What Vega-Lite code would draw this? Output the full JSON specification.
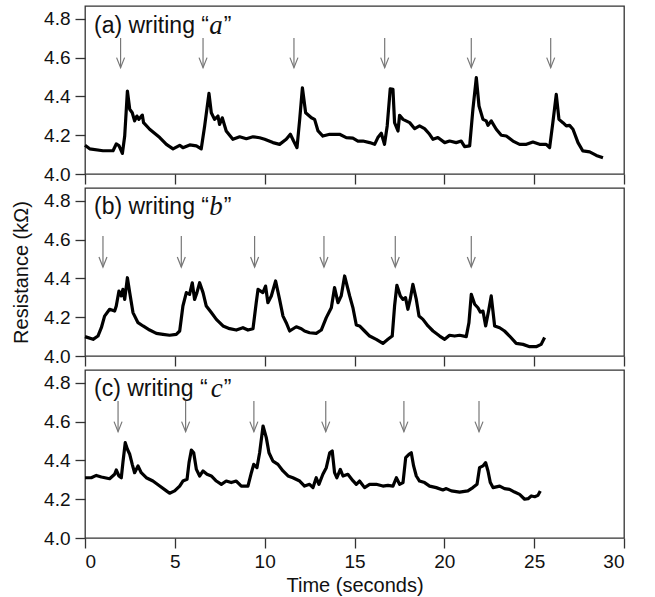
{
  "$schema": "https://vega.github.io/schema/vega-lite/v6.json",
  "padding": {"left": 10, "top": 5, "right": 5, "bottom": 5},
  "background": "white",
  "bounds": "flush",
  "spacing": 14,
  "config": {
    "font": "Liberation Sans",
    "view": {"stroke": "#333", "strokeWidth": 1.3},
    "axis": {
      "domain": false, "grid": false, "tickSize": 10, "tickColor": "#333", "tickWidth": 1.3,
      "labelFontSize": 19, "labelColor": "#111", "labelFont": "Liberation Sans",
      "titleFontSize": 20, "titleColor": "#111", "titleFontWeight": "normal", "titleFont": "Liberation Sans"
    },
    "axisY": {"labelPadding": 5, "titlePadding": 12},
    "axisX": {"labelPadding": 4, "titlePadding": 4}
  },
  "datasets": {
    "trace": [
      {"p":"a","t":0,"r":4.148},{"p":"a","t":0.26,"r":4.13},{"p":"a","t":1.0,"r":4.12},{"p":"a","t":1.56,"r":4.12},{"p":"a","t":1.74,"r":4.155},{"p":"a","t":1.89,"r":4.147},{"p":"a","t":2.08,"r":4.106},{"p":"a","t":2.21,"r":4.196},{"p":"a","t":2.36,"r":4.428},{"p":"a","t":2.49,"r":4.334},{"p":"a","t":2.63,"r":4.316},{"p":"a","t":2.76,"r":4.274},{"p":"a","t":2.89,"r":4.299},{"p":"a","t":3.0,"r":4.282},{"p":"a","t":3.19,"r":4.304},{"p":"a","t":3.26,"r":4.265},{"p":"a","t":3.6,"r":4.231},{"p":"a","t":4.16,"r":4.188},{"p":"a","t":4.53,"r":4.153},{"p":"a","t":4.9,"r":4.13},{"p":"a","t":5.27,"r":4.148},{"p":"a","t":5.45,"r":4.136},{"p":"a","t":5.83,"r":4.15},{"p":"a","t":6.2,"r":4.145},{"p":"a","t":6.47,"r":4.13},{"p":"a","t":6.66,"r":4.248},{"p":"a","t":6.9,"r":4.416},{"p":"a","t":7.03,"r":4.316},{"p":"a","t":7.21,"r":4.282},{"p":"a","t":7.4,"r":4.299},{"p":"a","t":7.49,"r":4.256},{"p":"a","t":7.64,"r":4.29},{"p":"a","t":7.86,"r":4.222},{"p":"a","t":8.23,"r":4.179},{"p":"a","t":8.61,"r":4.192},{"p":"a","t":8.98,"r":4.182},{"p":"a","t":9.35,"r":4.192},{"p":"a","t":9.72,"r":4.187},{"p":"a","t":10.0,"r":4.179},{"p":"a","t":10.46,"r":4.162},{"p":"a","t":10.83,"r":4.153},{"p":"a","t":11.2,"r":4.179},{"p":"a","t":11.43,"r":4.205},{"p":"a","t":11.61,"r":4.17},{"p":"a","t":11.8,"r":4.136},{"p":"a","t":11.95,"r":4.282},{"p":"a","t":12.1,"r":4.445},{"p":"a","t":12.28,"r":4.316},{"p":"a","t":12.6,"r":4.29},{"p":"a","t":12.78,"r":4.282},{"p":"a","t":12.97,"r":4.222},{"p":"a","t":13.24,"r":4.196},{"p":"a","t":13.62,"r":4.205},{"p":"a","t":14.17,"r":4.205},{"p":"a","t":14.54,"r":4.188},{"p":"a","t":14.91,"r":4.185},{"p":"a","t":15.19,"r":4.17},{"p":"a","t":15.47,"r":4.17},{"p":"a","t":15.84,"r":4.162},{"p":"a","t":16.12,"r":4.153},{"p":"a","t":16.3,"r":4.188},{"p":"a","t":16.49,"r":4.21},{"p":"a","t":16.67,"r":4.153},{"p":"a","t":16.82,"r":4.248},{"p":"a","t":16.99,"r":4.44},{"p":"a","t":17.14,"r":4.437},{"p":"a","t":17.23,"r":4.265},{"p":"a","t":17.42,"r":4.222},{"p":"a","t":17.51,"r":4.303},{"p":"a","t":17.7,"r":4.282},{"p":"a","t":18.07,"r":4.265},{"p":"a","t":18.35,"r":4.234},{"p":"a","t":18.62,"r":4.248},{"p":"a","t":18.9,"r":4.234},{"p":"a","t":19.18,"r":4.205},{"p":"a","t":19.37,"r":4.179},{"p":"a","t":19.64,"r":4.188},{"p":"a","t":20.02,"r":4.162},{"p":"a","t":20.29,"r":4.17},{"p":"a","t":20.66,"r":4.162},{"p":"a","t":20.94,"r":4.17},{"p":"a","t":21.13,"r":4.141},{"p":"a","t":21.41,"r":4.145},{"p":"a","t":21.59,"r":4.334},{"p":"a","t":21.78,"r":4.497},{"p":"a","t":21.93,"r":4.351},{"p":"a","t":22.15,"r":4.282},{"p":"a","t":22.33,"r":4.274},{"p":"a","t":22.43,"r":4.251},{"p":"a","t":22.61,"r":4.274},{"p":"a","t":22.89,"r":4.231},{"p":"a","t":23.17,"r":4.2},{"p":"a","t":23.45,"r":4.196},{"p":"a","t":23.82,"r":4.17},{"p":"a","t":24.19,"r":4.153},{"p":"a","t":24.57,"r":4.153},{"p":"a","t":24.93,"r":4.165},{"p":"a","t":25.3,"r":4.153},{"p":"a","t":25.67,"r":4.153},{"p":"a","t":25.86,"r":4.136},{"p":"a","t":26.04,"r":4.265},{"p":"a","t":26.23,"r":4.411},{"p":"a","t":26.38,"r":4.282},{"p":"a","t":26.6,"r":4.265},{"p":"a","t":26.79,"r":4.248},{"p":"a","t":26.97,"r":4.251},{"p":"a","t":27.16,"r":4.231},{"p":"a","t":27.44,"r":4.162},{"p":"a","t":27.71,"r":4.119},{"p":"a","t":28.09,"r":4.114},{"p":"a","t":28.46,"r":4.096},{"p":"a","t":28.83,"r":4.084},
      {"p":"b","t":0,"r":4.1},{"p":"b","t":0.45,"r":4.086},{"p":"b","t":0.72,"r":4.103},{"p":"b","t":0.91,"r":4.146},{"p":"b","t":1.09,"r":4.206},{"p":"b","t":1.37,"r":4.241},{"p":"b","t":1.65,"r":4.232},{"p":"b","t":1.74,"r":4.258},{"p":"b","t":1.89,"r":4.335},{"p":"b","t":2.02,"r":4.31},{"p":"b","t":2.11,"r":4.344},{"p":"b","t":2.21,"r":4.292},{"p":"b","t":2.36,"r":4.404},{"p":"b","t":2.49,"r":4.327},{"p":"b","t":2.67,"r":4.224},{"p":"b","t":2.95,"r":4.172},{"p":"b","t":3.23,"r":4.155},{"p":"b","t":3.6,"r":4.134},{"p":"b","t":3.97,"r":4.117},{"p":"b","t":4.34,"r":4.112},{"p":"b","t":4.71,"r":4.107},{"p":"b","t":5.08,"r":4.112},{"p":"b","t":5.27,"r":4.129},{"p":"b","t":5.45,"r":4.258},{"p":"b","t":5.64,"r":4.327},{"p":"b","t":5.82,"r":4.318},{"p":"b","t":5.97,"r":4.378},{"p":"b","t":6.1,"r":4.292},{"p":"b","t":6.23,"r":4.327},{"p":"b","t":6.38,"r":4.378},{"p":"b","t":6.57,"r":4.327},{"p":"b","t":6.75,"r":4.258},{"p":"b","t":7.03,"r":4.224},{"p":"b","t":7.31,"r":4.189},{"p":"b","t":7.68,"r":4.155},{"p":"b","t":8.05,"r":4.141},{"p":"b","t":8.42,"r":4.134},{"p":"b","t":8.79,"r":4.146},{"p":"b","t":9.07,"r":4.134},{"p":"b","t":9.35,"r":4.141},{"p":"b","t":9.53,"r":4.275},{"p":"b","t":9.63,"r":4.344},{"p":"b","t":9.9,"r":4.327},{"p":"b","t":10.05,"r":4.361},{"p":"b","t":10.18,"r":4.275},{"p":"b","t":10.37,"r":4.31},{"p":"b","t":10.61,"r":4.387},{"p":"b","t":10.83,"r":4.292},{"p":"b","t":11.02,"r":4.206},{"p":"b","t":11.2,"r":4.172},{"p":"b","t":11.39,"r":4.129},{"p":"b","t":11.76,"r":4.151},{"p":"b","t":12.04,"r":4.141},{"p":"b","t":12.22,"r":4.129},{"p":"b","t":12.5,"r":4.12},{"p":"b","t":12.87,"r":4.117},{"p":"b","t":13.15,"r":4.134},{"p":"b","t":13.43,"r":4.198},{"p":"b","t":13.71,"r":4.249},{"p":"b","t":13.89,"r":4.353},{"p":"b","t":14.08,"r":4.275},{"p":"b","t":14.26,"r":4.31},{"p":"b","t":14.45,"r":4.413},{"p":"b","t":14.73,"r":4.31},{"p":"b","t":14.91,"r":4.25},{"p":"b","t":15.1,"r":4.16},{"p":"b","t":15.28,"r":4.155},{"p":"b","t":15.56,"r":4.129},{"p":"b","t":15.84,"r":4.103},{"p":"b","t":16.21,"r":4.086},{"p":"b","t":16.58,"r":4.065},{"p":"b","t":16.86,"r":4.086},{"p":"b","t":17.1,"r":4.103},{"p":"b","t":17.23,"r":4.258},{"p":"b","t":17.36,"r":4.365},{"p":"b","t":17.55,"r":4.31},{"p":"b","t":17.7,"r":4.292},{"p":"b","t":17.84,"r":4.301},{"p":"b","t":17.97,"r":4.241},{"p":"b","t":18.1,"r":4.292},{"p":"b","t":18.25,"r":4.37},{"p":"b","t":18.44,"r":4.292},{"p":"b","t":18.59,"r":4.206},{"p":"b","t":18.81,"r":4.189},{"p":"b","t":19.09,"r":4.155},{"p":"b","t":19.37,"r":4.129},{"p":"b","t":19.74,"r":4.103},{"p":"b","t":20.02,"r":4.086},{"p":"b","t":20.29,"r":4.107},{"p":"b","t":20.57,"r":4.103},{"p":"b","t":20.85,"r":4.107},{"p":"b","t":21.22,"r":4.1},{"p":"b","t":21.37,"r":4.172},{"p":"b","t":21.5,"r":4.318},{"p":"b","t":21.69,"r":4.267},{"p":"b","t":21.87,"r":4.249},{"p":"b","t":22.0,"r":4.227},{"p":"b","t":22.15,"r":4.232},{"p":"b","t":22.3,"r":4.155},{"p":"b","t":22.48,"r":4.241},{"p":"b","t":22.61,"r":4.31},{"p":"b","t":22.8,"r":4.155},{"p":"b","t":23.08,"r":4.146},{"p":"b","t":23.35,"r":4.129},{"p":"b","t":23.63,"r":4.103},{"p":"b","t":24.0,"r":4.065},{"p":"b","t":24.38,"r":4.06},{"p":"b","t":24.75,"r":4.048},{"p":"b","t":25.11,"r":4.048},{"p":"b","t":25.39,"r":4.06},{"p":"b","t":25.58,"r":4.095},
      {"p":"c","t":0,"r":4.311},{"p":"c","t":0.35,"r":4.311},{"p":"c","t":0.63,"r":4.323},{"p":"c","t":0.91,"r":4.315},{"p":"c","t":1.37,"r":4.306},{"p":"c","t":1.65,"r":4.329},{"p":"c","t":1.74,"r":4.351},{"p":"c","t":1.89,"r":4.32},{"p":"c","t":2.02,"r":4.311},{"p":"c","t":2.11,"r":4.389},{"p":"c","t":2.24,"r":4.492},{"p":"c","t":2.36,"r":4.458},{"p":"c","t":2.49,"r":4.432},{"p":"c","t":2.63,"r":4.38},{"p":"c","t":2.76,"r":4.337},{"p":"c","t":2.95,"r":4.372},{"p":"c","t":3.13,"r":4.337},{"p":"c","t":3.41,"r":4.311},{"p":"c","t":3.78,"r":4.294},{"p":"c","t":4.16,"r":4.268},{"p":"c","t":4.53,"r":4.243},{"p":"c","t":4.71,"r":4.231},{"p":"c","t":4.99,"r":4.243},{"p":"c","t":5.27,"r":4.268},{"p":"c","t":5.45,"r":4.294},{"p":"c","t":5.68,"r":4.303},{"p":"c","t":5.79,"r":4.389},{"p":"c","t":5.92,"r":4.454},{"p":"c","t":6.05,"r":4.44},{"p":"c","t":6.2,"r":4.354},{"p":"c","t":6.38,"r":4.32},{"p":"c","t":6.57,"r":4.346},{"p":"c","t":6.79,"r":4.329},{"p":"c","t":7.03,"r":4.32},{"p":"c","t":7.31,"r":4.294},{"p":"c","t":7.59,"r":4.277},{"p":"c","t":7.86,"r":4.294},{"p":"c","t":8.14,"r":4.286},{"p":"c","t":8.42,"r":4.294},{"p":"c","t":8.7,"r":4.268},{"p":"c","t":9.07,"r":4.268},{"p":"c","t":9.26,"r":4.337},{"p":"c","t":9.39,"r":4.38},{"p":"c","t":9.57,"r":4.363},{"p":"c","t":9.72,"r":4.44},{"p":"c","t":9.91,"r":4.578},{"p":"c","t":10.09,"r":4.518},{"p":"c","t":10.24,"r":4.44},{"p":"c","t":10.46,"r":4.397},{"p":"c","t":10.74,"r":4.38},{"p":"c","t":11.02,"r":4.346},{"p":"c","t":11.3,"r":4.32},{"p":"c","t":11.57,"r":4.311},{"p":"c","t":11.95,"r":4.294},{"p":"c","t":12.22,"r":4.268},{"p":"c","t":12.5,"r":4.277},{"p":"c","t":12.69,"r":4.26},{"p":"c","t":12.87,"r":4.311},{"p":"c","t":13.02,"r":4.277},{"p":"c","t":13.24,"r":4.329},{"p":"c","t":13.43,"r":4.363},{"p":"c","t":13.62,"r":4.44},{"p":"c","t":13.76,"r":4.449},{"p":"c","t":13.89,"r":4.337},{"p":"c","t":14.02,"r":4.311},{"p":"c","t":14.21,"r":4.354},{"p":"c","t":14.36,"r":4.32},{"p":"c","t":14.63,"r":4.329},{"p":"c","t":14.91,"r":4.296},{"p":"c","t":15.1,"r":4.277},{"p":"c","t":15.28,"r":4.294},{"p":"c","t":15.56,"r":4.26},{"p":"c","t":15.84,"r":4.277},{"p":"c","t":16.21,"r":4.277},{"p":"c","t":16.58,"r":4.268},{"p":"c","t":16.86,"r":4.272},{"p":"c","t":17.14,"r":4.268},{"p":"c","t":17.33,"r":4.311},{"p":"c","t":17.51,"r":4.277},{"p":"c","t":17.7,"r":4.286},{"p":"c","t":17.85,"r":4.415},{"p":"c","t":18.03,"r":4.432},{"p":"c","t":18.16,"r":4.44},{"p":"c","t":18.29,"r":4.372},{"p":"c","t":18.44,"r":4.32},{"p":"c","t":18.62,"r":4.294},{"p":"c","t":18.9,"r":4.286},{"p":"c","t":19.18,"r":4.268},{"p":"c","t":19.55,"r":4.26},{"p":"c","t":19.92,"r":4.248},{"p":"c","t":20.11,"r":4.255},{"p":"c","t":20.39,"r":4.243},{"p":"c","t":20.85,"r":4.237},{"p":"c","t":21.31,"r":4.243},{"p":"c","t":21.59,"r":4.26},{"p":"c","t":21.82,"r":4.277},{"p":"c","t":21.96,"r":4.363},{"p":"c","t":22.15,"r":4.372},{"p":"c","t":22.3,"r":4.389},{"p":"c","t":22.43,"r":4.346},{"p":"c","t":22.56,"r":4.286},{"p":"c","t":22.71,"r":4.26},{"p":"c","t":23.08,"r":4.268},{"p":"c","t":23.35,"r":4.255},{"p":"c","t":23.63,"r":4.251},{"p":"c","t":23.91,"r":4.237},{"p":"c","t":24.19,"r":4.225},{"p":"c","t":24.47,"r":4.2},{"p":"c","t":24.66,"r":4.203},{"p":"c","t":24.84,"r":4.217},{"p":"c","t":25.03,"r":4.213},{"p":"c","t":25.21,"r":4.22},{"p":"c","t":25.34,"r":4.243}
    ],
    "arrows": [
      {"p":"a","t":1.98,"r2":4.702,"r":4.549},{"p":"a","t":6.57,"r2":4.702,"r":4.549},{"p":"a","t":11.63,"r2":4.702,"r":4.549},{"p":"a","t":16.68,"r2":4.702,"r":4.549},{"p":"a","t":21.5,"r2":4.702,"r":4.549},{"p":"a","t":25.92,"r2":4.702,"r":4.549},
      {"p":"b","t":1.0,"r2":4.619,"r":4.459},{"p":"b","t":5.36,"r2":4.619,"r":4.459},{"p":"b","t":9.44,"r2":4.619,"r":4.459},{"p":"b","t":13.3,"r2":4.619,"r":4.459},{"p":"b","t":17.27,"r2":4.619,"r":4.459},{"p":"b","t":21.5,"r2":4.619,"r":4.459},
      {"p":"c","t":1.84,"r2":4.707,"r":4.549},{"p":"c","t":5.6,"r2":4.707,"r":4.549},{"p":"c","t":9.4,"r2":4.707,"r":4.549},{"p":"c","t":13.4,"r2":4.707,"r":4.549},{"p":"c","t":17.75,"r2":4.707,"r":4.549},{"p":"c","t":21.93,"r2":4.707,"r":4.549}
    ],
    "labels": [
      {"p":"a","t":0.5,"r":4.765,"s":"(a) writing “","k":"sans"},{"p":"a","t":6.92,"r":4.765,"s":"a","k":"serif"},{"p":"a","t":7.72,"r":4.765,"s":"”","k":"sans"},
      {"p":"b","t":0.5,"r":4.77,"s":"(b) writing “","k":"sans"},{"p":"b","t":6.92,"r":4.77,"s":"b","k":"serif"},{"p":"b","t":7.72,"r":4.77,"s":"”","k":"sans"},
      {"p":"c","t":0.5,"r":4.77,"s":"(c) writing “","k":"sans"},{"p":"c","t":7.0,"r":4.77,"s":"c","k":"serif"},{"p":"c","t":7.72,"r":4.77,"s":"”","k":"sans"}
    ]
  },
  "vconcat": [
    {
      "width": 539, "height": 168,
      "encoding": {
        "x": {"field": "t", "type": "quantitative", "scale": {"domain": [0, 30], "nice": false}, "axis": {"values": [0,5,10,15,20,25,30], "labels": false, "title": null}},
        "y": {"field": "r", "type": "quantitative", "scale": {"domain": [4, 4.867], "nice": false, "zero": false}, "axis": {"values": [4,4.2,4.4,4.6,4.8], "format": ".1f", "title": null}}
      },
      "layer": [
        {"data": {"name": "trace"}, "transform": [{"filter": "datum.p === 'a'"}],
         "mark": {"type": "line", "color": "black", "strokeWidth": 3.2, "strokeJoin": "round"}},
        {"data": {"name": "arrows"}, "transform": [{"filter": "datum.p === 'a'"}],
         "mark": {"type": "rule", "color": "#777", "strokeWidth": 1.2},
         "encoding": {"y2": {"field": "r2"}}},
        {"data": {"name": "arrows"}, "transform": [{"filter": "datum.p === 'a'"}],
         "mark": {"type": "point", "shape": "M-0.8,-2L0,0L0.8,-2", "filled": false, "color": "#777", "strokeWidth": 1.2, "size": 100, "opacity": 1}},
        {"data": {"name": "labels"}, "transform": [{"filter": "datum.p === 'a' && datum.k === 'sans'"}],
         "mark": {"type": "text", "align": "left", "baseline": "middle", "fontSize": 23, "font": "Liberation Sans", "color": "#111"},
         "encoding": {"text": {"field": "s"}}},
        {"data": {"name": "labels"}, "transform": [{"filter": "datum.p === 'a' && datum.k === 'serif'"}],
         "mark": {"type": "text", "align": "left", "baseline": "middle", "fontSize": 27, "font": "Liberation Serif", "fontStyle": "italic", "color": "#111"},
         "encoding": {"text": {"field": "s"}}}
      ]
    },
    {
      "width": 539, "height": 168,
      "encoding": {
        "x": {"field": "t", "type": "quantitative", "scale": {"domain": [0, 30], "nice": false}, "axis": {"values": [0,5,10,15,20,25,30], "labels": false, "title": null}},
        "y": {"field": "r", "type": "quantitative", "scale": {"domain": [4, 4.867], "nice": false, "zero": false}, "axis": {"values": [4,4.2,4.4,4.6,4.8], "format": ".1f", "title": "Resistance (kΩ)"}}
      },
      "layer": [
        {"data": {"name": "trace"}, "transform": [{"filter": "datum.p === 'b'"}],
         "mark": {"type": "line", "color": "black", "strokeWidth": 3.2, "strokeJoin": "round"}},
        {"data": {"name": "arrows"}, "transform": [{"filter": "datum.p === 'b'"}],
         "mark": {"type": "rule", "color": "#777", "strokeWidth": 1.2},
         "encoding": {"y2": {"field": "r2"}}},
        {"data": {"name": "arrows"}, "transform": [{"filter": "datum.p === 'b'"}],
         "mark": {"type": "point", "shape": "M-0.8,-2L0,0L0.8,-2", "filled": false, "color": "#777", "strokeWidth": 1.2, "size": 100, "opacity": 1}},
        {"data": {"name": "labels"}, "transform": [{"filter": "datum.p === 'b' && datum.k === 'sans'"}],
         "mark": {"type": "text", "align": "left", "baseline": "middle", "fontSize": 23, "font": "Liberation Sans", "color": "#111"},
         "encoding": {"text": {"field": "s"}}},
        {"data": {"name": "labels"}, "transform": [{"filter": "datum.p === 'b' && datum.k === 'serif'"}],
         "mark": {"type": "text", "align": "left", "baseline": "middle", "fontSize": 27, "font": "Liberation Serif", "fontStyle": "italic", "color": "#111"},
         "encoding": {"text": {"field": "s"}}}
      ]
    },
    {
      "width": 539, "height": 168,
      "encoding": {
        "x": {"field": "t", "type": "quantitative", "scale": {"domain": [0, 30], "nice": false}, "axis": {"values": [0,5,10,15,20,25,30], "title": "Time (seconds)"}},
        "y": {"field": "r", "type": "quantitative", "scale": {"domain": [4, 4.867], "nice": false, "zero": false}, "axis": {"values": [4,4.2,4.4,4.6,4.8], "format": ".1f", "title": null}}
      },
      "layer": [
        {"data": {"name": "trace"}, "transform": [{"filter": "datum.p === 'c'"}],
         "mark": {"type": "line", "color": "black", "strokeWidth": 3.2, "strokeJoin": "round"}},
        {"data": {"name": "arrows"}, "transform": [{"filter": "datum.p === 'c'"}],
         "mark": {"type": "rule", "color": "#777", "strokeWidth": 1.2},
         "encoding": {"y2": {"field": "r2"}}},
        {"data": {"name": "arrows"}, "transform": [{"filter": "datum.p === 'c'"}],
         "mark": {"type": "point", "shape": "M-0.8,-2L0,0L0.8,-2", "filled": false, "color": "#777", "strokeWidth": 1.2, "size": 100, "opacity": 1}},
        {"data": {"name": "labels"}, "transform": [{"filter": "datum.p === 'c' && datum.k === 'sans'"}],
         "mark": {"type": "text", "align": "left", "baseline": "middle", "fontSize": 23, "font": "Liberation Sans", "color": "#111"},
         "encoding": {"text": {"field": "s"}}},
        {"data": {"name": "labels"}, "transform": [{"filter": "datum.p === 'c' && datum.k === 'serif'"}],
         "mark": {"type": "text", "align": "left", "baseline": "middle", "fontSize": 27, "font": "Liberation Serif", "fontStyle": "italic", "color": "#111"},
         "encoding": {"text": {"field": "s"}}}
      ]
    }
  ]
}
